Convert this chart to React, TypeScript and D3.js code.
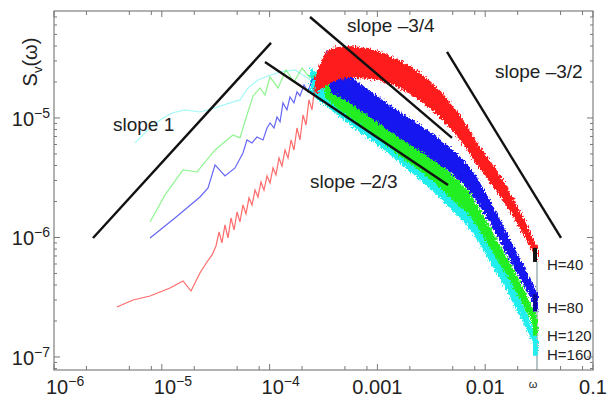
import React, { useEffect, useRef } from "react";
import * as d3 from "d3";

// all values are [log10(omega), log10(S)]
const redLine = [
  [-5.416, -6.582], [-5.267, -6.523], [-5.109, -6.49], [-4.924, -6.423], [-4.803, -6.364],
  [-4.729, -6.448], [-4.646, -6.297], [-4.581, -6.205], [-4.534, -6.146], [-4.497, -6.071],
  [-4.469, -5.954], [-4.442, -6.046], [-4.414, -5.895], [-4.386, -6.004], [-4.358, -5.837],
  [-4.33, -5.937], [-4.302, -5.787], [-4.275, -5.87], [-4.247, -5.728], [-4.219, -5.803],
  [-4.191, -5.669], [-4.163, -5.728], [-4.135, -5.603], [-4.108, -5.661], [-4.08, -5.536],
  [-4.052, -5.603], [-4.024, -5.485], [-3.996, -5.544], [-3.968, -5.418], [-3.941, -5.477],
  [-3.913, -5.335], [-3.885, -5.402], [-3.857, -5.268], [-3.829, -5.335], [-3.801, -5.184],
  [-3.774, -5.268], [-3.746, -5.084], [-3.718, -5.184], [-3.69, -4.975], [-3.662, -5.059],
  [-3.635, -4.849], [-3.607, -4.933], [-3.579, -4.724],
];
const blueLine = [
  [-5.109, -6.004], [-4.878, -5.837], [-4.646, -5.661], [-4.571, -5.586], [-4.506, -5.393],
  [-4.414, -5.485], [-4.321, -5.418], [-4.247, -5.293], [-4.21, -5.184], [-4.163, -5.209],
  [-4.117, -5.159], [-4.061, -5.184], [-4.024, -5.084], [-3.996, -5.042], [-3.959, -5.084],
  [-3.931, -4.992], [-3.903, -5.033], [-3.876, -4.874], [-3.839, -4.933], [-3.811, -4.824],
  [-3.774, -4.874], [-3.746, -4.782], [-3.718, -4.816], [-3.681, -4.724], [-3.644, -4.782],
  [-3.607, -4.682], [-3.56, -4.657], [-3.523, -4.724], [-3.495, -4.515], [-3.468, -4.431],
  [-3.44, -4.707],
];
const greenLine = [
  [-5.109, -5.87], [-4.97, -5.644], [-4.803, -5.435], [-4.673, -5.452], [-4.506, -5.268],
  [-4.34, -5.142], [-4.275, -5.167], [-4.21, -4.975], [-4.154, -4.816], [-4.089, -4.749],
  [-4.043, -4.808], [-3.996, -4.657], [-3.922, -4.749], [-3.848, -4.598], [-3.774, -4.699],
  [-3.699, -4.582], [-3.625, -4.665], [-3.532, -4.615], [-3.486, -4.72],
];
const cyanLine = [
  [-5.249, -5.209], [-5.128, -5.1], [-5.017, -5.017], [-4.905, -4.958], [-4.785, -4.933],
  [-4.646, -4.95], [-4.506, -4.916], [-4.367, -4.874], [-4.275, -4.849], [-4.2, -4.749],
  [-4.108, -4.682], [-4.015, -4.649], [-3.903, -4.615], [-3.764, -4.598], [-3.625, -4.68],
];

// dense high-frequency part: [log10(omega), log10(S) low, log10(S) high]
const redBand = [
  [-3.579, -4.808, -4.665], [-3.44, -4.71, -4.42], [-3.254, -4.665, -4.4],
  [-3.069, -4.675, -4.425], [-2.883, -4.718, -4.48], [-2.698, -4.8, -4.565],
  [-2.512, -4.925, -4.69], [-2.327, -5.085, -4.865], [-2.187, -5.245, -5.04],
  [-2.048, -5.43, -5.24], [-1.863, -5.655, -5.48], [-1.677, -5.925, -5.78],
  [-1.51, -6.205, -6.087],
];
const blueBand = [
  [-3.44, -4.79, -4.575], [-3.254, -4.875, -4.655], [-3.022, -5.025, -4.805],
  [-2.79, -5.17, -4.95], [-2.512, -5.335, -5.115], [-2.327, -5.455, -5.25],
  [-2.141, -5.62, -5.415], [-1.955, -5.88, -5.69], [-1.77, -6.19, -6.015],
  [-1.631, -6.42, -6.258], [-1.51, -6.62, -6.475],
];
const greenBand = [
  [-3.486, -4.83, -4.615], [-3.254, -5.0, -4.785], [-3.022, -5.15, -4.93],
  [-2.79, -5.32, -5.1], [-2.558, -5.48, -5.275], [-2.327, -5.665, -5.46],
  [-2.141, -5.825, -5.632], [-1.955, -6.09, -5.918], [-1.77, -6.37, -6.21],
  [-1.631, -6.595, -6.45], [-1.51, -6.822, -6.692],
];
const cyanBand = [
  [-3.625, -4.79, -4.575], [-3.254, -5.06, -4.84], [-3.022, -5.21, -4.99],
  [-2.79, -5.378, -5.158], [-2.558, -5.555, -5.35], [-2.327, -5.755, -5.55],
  [-2.141, -5.932, -5.742], [-1.955, -6.208, -6.035], [-1.77, -6.5, -6.345],
  [-1.631, -6.745, -6.602], [-1.51, -6.99, -6.86],
];

const seriesNames = ["H=160", "H=120", "H=80", "H=40"];
const seriesColors = ["#22eeee", "#22ee22", "#1414f0", "#ff1a1a"];
const seriesLineOpacity = [0.4, 0.5, 0.65, 0.65];
const seriesLines = [cyanLine, greenLine, blueLine, redLine];
const seriesBands = [cyanBand, greenBand, blueBand, redBand];
const seriesEndColors = ["#22eeee", "#22ee22", "#0a0a9a", "#111111"];

// reference power laws: endpoints in log10
const slopeLines = [
  [[-5.638, -6.004], [-3.987, -4.372]],
  [[-4.043, -4.531], [-2.345, -5.561]],
  [[-3.625, -4.155], [-2.308, -5.167]],
  [[-2.354, -4.448], [-1.297, -6.004]],
];
const slopeLabels = ["slope 1", "slope –2/3", "slope –3/4", "slope –3/2"];

const xDecades = [-6, -5, -4, -3, -2, -1];
const xTickLabels = [["10", "−6"], ["10", "−5"], ["10", "−4"], ["0.001", ""], ["0.01", ""], ["0.1", ""]];
const yDecades = [-7, -6, -5];
const yTickLabels = [["10", "−7"], ["10", "−6"], ["10", "−5"]];

const FONT = "'Liberation Sans', Arial, Helvetica, sans-serif";

const App = () => {
  const svgRef = useRef<SVGSVGElement>(null);

  useEffect(() => {
    const svg = d3.select(svgRef.current);
    svg.selectAll("*").remove();

    const left = 54, right = 593, top = 11, bottom = 370;
    const x = d3.scaleLog().domain([1e-6, 1e-1]).range([left, right]);
    const y = d3.scaleLog().domain([10 ** -7.109, 10 ** -4.105]).range([bottom, top]);
    const px = (l: number) => x(10 ** l);
    const py = (l: number) => y(10 ** l);

    const defs = svg.append("defs");
    defs.append("clipPath").attr("id", "plot")
      .append("rect").attr("x", left).attr("y", top)
      .attr("width", right - left).attr("height", bottom - top);
    // ragged edges for the dense part of the spectra
    const f = defs.append("filter").attr("id", "rough")
      .attr("x", "-5%").attr("y", "-5%").attr("width", "110%").attr("height", "110%");
    f.append("feTurbulence").attr("type", "fractalNoise")
      .attr("baseFrequency", "0.7 0.4").attr("numOctaves", 2).attr("seed", 4).attr("result", "n");
    f.append("feDisplacementMap").attr("in", "SourceGraphic").attr("in2", "n")
      .attr("scale", 7).attr("xChannelSelector", "R").attr("yChannelSelector", "G");

    const plot = svg.append("g").attr("clip-path", "url(#plot)");

    const line = d3.line<number[]>().x((d) => px(d[0])).y((d) => py(d[1]));
    const area = d3.area<number[]>()
      .x((d) => px(d[0])).y0((d) => py(d[1])).y1((d) => py(d[2]))
      .curve(d3.curveMonotoneX);

    // vertical line where the data stops
    const endL = redBand[redBand.length - 1];
    plot.append("line")
      .attr("x1", px(endL[0]) - 1).attr("x2", px(endL[0]) - 1)
      .attr("y1", py(endL[1])).attr("y2", bottom)
      .attr("stroke", "#6a8a8a").attr("stroke-width", 1);

    seriesNames.forEach((name, i) => {
      const g = plot.append("g");
      g.append("path")
        .attr("d", line(seriesLines[i]))
        .attr("fill", "none")
        .attr("stroke", seriesColors[i])
        .attr("stroke-opacity", seriesLineOpacity[i])
        .attr("stroke-width", 1.2);
      g.append("path")
        .attr("d", area(seriesBands[i]))
        .attr("fill", seriesColors[i])
        .attr("filter", "url(#rough)");
      const last = seriesBands[i][seriesBands[i].length - 1];
      g.append("rect")
        .attr("x", px(last[0]) - 5).attr("width", 4)
        .attr("y", py(last[2])).attr("height", py(last[1]) - py(last[2]))
        .attr("fill", seriesEndColors[i]);
    });

    slopeLines.forEach((s) => {
      svg.append("line")
        .attr("x1", px(s[0][0])).attr("y1", py(s[0][1]))
        .attr("x2", px(s[1][0])).attr("y2", py(s[1][1]))
        .attr("stroke", "#111").attr("stroke-width", 2.4);
    });

    // labels for the power laws
    const slopePos = [[113, 131], [310, 188], [347, 32], [495, 78]];
    slopeLabels.forEach((t, i) => {
      svg.append("text")
        .attr("x", slopePos[i][0]).attr("y", slopePos[i][1])
        .style("font-family", FONT).style("font-size", "19px").style("fill", "#222")
        .text(t);
    });

    // series names at right end
    const namePos = [360, 341, 313, 270];
    seriesNames.forEach((t, i) => {
      svg.append("text")
        .attr("x", 547).attr("y", namePos[i])
        .style("font-family", FONT).style("font-size", "15px").style("fill", "#222")
        .text(t);
    });

    // frame
    svg.append("rect")
      .attr("x", left).attr("y", top).attr("width", right - left).attr("height", bottom - top)
      .attr("fill", "none").attr("stroke", "#666").attr("stroke-width", 1);

    const axisG = svg.append("g").attr("stroke", "#777").attr("stroke-width", 1);
    xDecades.forEach((d) => {
      const xs = px(d);
      axisG.append("line").attr("x1", xs).attr("x2", xs).attr("y1", bottom).attr("y2", bottom - 6);
      axisG.append("line").attr("x1", xs).attr("x2", xs).attr("y1", top).attr("y2", top + 6);
      if (d < -1) {
        [2, 5, 8].forEach((m) => {
          const xm = x(m * 10 ** d);
          axisG.append("line").attr("x1", xm).attr("x2", xm).attr("y1", bottom).attr("y2", bottom - 4);
          axisG.append("line").attr("x1", xm).attr("x2", xm).attr("y1", top).attr("y2", top + 4);
        });
      }
    });
    [-8, -7, -6, -5].forEach((d) => {
      [1, 2, 3, 4, 5, 6, 7, 8, 9].forEach((m) => {
        const v = m * 10 ** d;
        const [lo, hi] = y.domain();
        if (v < lo || v > hi) return;
        const ys = y(v);
        const len = m === 1 ? 6 : 3;
        axisG.append("line").attr("x1", left).attr("x2", left + len).attr("y1", ys).attr("y2", ys);
        axisG.append("line").attr("x1", right).attr("x2", right - len).attr("y1", ys).attr("y2", ys);
      });
    });

    xDecades.forEach((d, i) => {
      const [base, exp] = xTickLabels[i];
      const t = svg.append("text")
        .attr("y", 394)
        .style("font-family", FONT).style("font-size", "20px").style("fill", "#222");
      if (exp) {
        t.attr("x", px(d) - 8).attr("text-anchor", "start");
        t.append("tspan").text(base);
        t.append("tspan").attr("dy", -8).style("font-size", "14px").text(exp);
      } else {
        t.attr("x", px(d)).attr("text-anchor", "middle").text(base);
      }
    });

    yDecades.forEach((d, i) => {
      const [base, exp] = yTickLabels[i];
      const t = svg.append("text")
        .attr("x", 50).attr("y", py(d) + 8).attr("text-anchor", "end")
        .style("font-family", FONT).style("font-size", "20px").style("fill", "#222");
      t.append("tspan").text(base);
      t.append("tspan").attr("dy", -8).style("font-size", "14px").text(exp);
    });

    svg.append("text")
      .attr("x", 533).attr("y", 388).attr("text-anchor", "middle")
      .style("font-family", FONT).style("font-size", "11px").style("fill", "#222")
      .text("ω");

    const yl = svg.append("text")
      .attr("transform", "translate(37,62) rotate(-90)")
      .attr("text-anchor", "middle")
      .style("font-family", FONT).style("font-size", "20px").style("fill", "#222");
    yl.append("tspan").text("S");
    yl.append("tspan").attr("dy", 5).style("font-size", "13px").text("v");
    yl.append("tspan").attr("dy", -5).text("(ω)");
  }, []);

  return (
    <svg
      ref={svgRef}
      width={609}
      height={400}
      style={{ position: "fixed", left: 0, top: 0, background: "#fff" }}
    ></svg>
  );
};

export default App;
